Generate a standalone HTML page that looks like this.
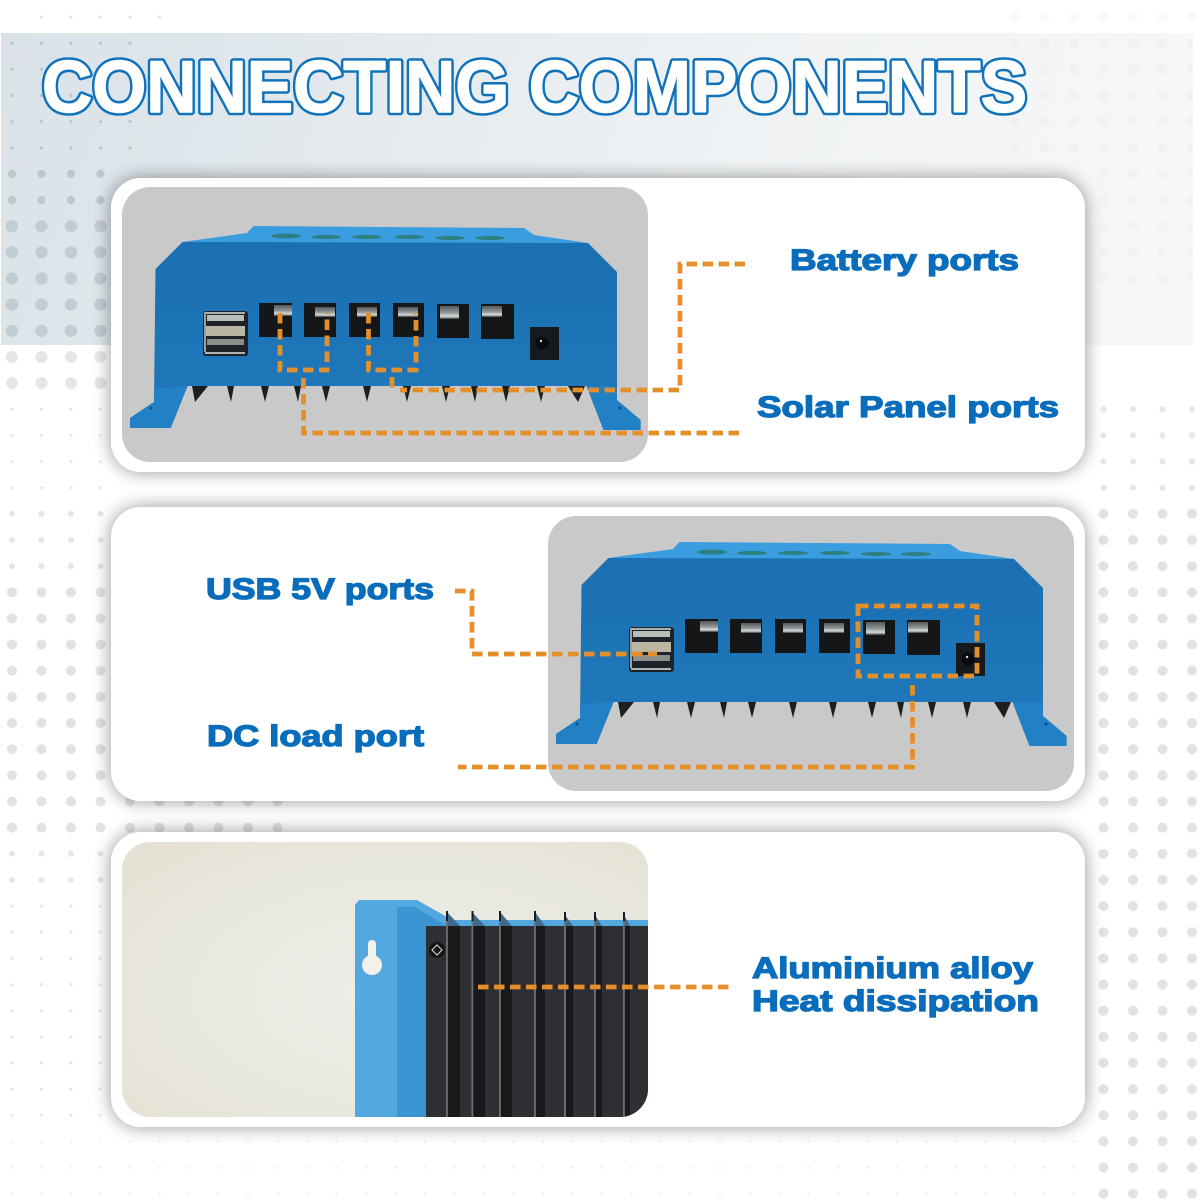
<!DOCTYPE html>
<html><head><meta charset="utf-8"><style>
html,body{margin:0;padding:0;background:#fff}
svg{display:block}
text{font-family:"Liberation Sans",sans-serif;font-weight:bold}
.l{fill:#0a6dbc;stroke:#0a6dbc;stroke-width:1.3;font-size:30px}
.d{fill:none;stroke:#e3902c;stroke-width:4.8;stroke-dasharray:10.5 5.5}
</style></head><body>
<svg width="1200" height="1200" viewBox="0 0 1200 1200" xmlns="http://www.w3.org/2000/svg">
<defs>
<linearGradient id="band" x1="0" y1="0" x2="1" y2="0.1">
<stop offset="0" stop-color="#d9e2e8"/><stop offset=".3" stop-color="#e3e9ed"/><stop offset=".6" stop-color="#eef1f3"/><stop offset="1" stop-color="#f6f7f8"/>
</linearGradient>
<linearGradient id="body" x1="0" y1="0" x2="0" y2="1">
<stop offset="0" stop-color="#1b70b1"/><stop offset=".5" stop-color="#1d74b6"/><stop offset="1" stop-color="#217abe"/>
</linearGradient>
<radialGradient id="wall" cx=".55" cy=".55" r=".75">
<stop offset="0" stop-color="#eeeeea"/><stop offset=".6" stop-color="#e9e8df"/><stop offset="1" stop-color="#e5e0d3"/>
</radialGradient>
<linearGradient id="tab" x1="0" y1="0" x2="0" y2="1">
<stop offset="0" stop-color="#55595c"/><stop offset=".5" stop-color="#8f9496"/><stop offset=".8" stop-color="#d6dad9"/><stop offset="1" stop-color="#3c4042"/>
</linearGradient>
<pattern id="t1" width="29.5" height="26.15" patternUnits="userSpaceOnUse"><circle cx="12" cy="17" r="1.6" fill="#b9c3ca"/></pattern>
<pattern id="t2" width="29.5" height="26.15" patternUnits="userSpaceOnUse"><circle cx="12" cy="17" r="4.2" fill="#bcc8cd"/></pattern>
<pattern id="t3" width="29.5" height="26.15" patternUnits="userSpaceOnUse"><circle cx="12" cy="17" r="6.2" fill="#c1cdd2"/></pattern>
<pattern id="g1" width="29.5" height="26.15" patternUnits="userSpaceOnUse"><circle cx="12" cy="17" r="1.5" fill="#e4e4e4"/></pattern>
<pattern id="g2" width="29.5" height="26.15" patternUnits="userSpaceOnUse"><circle cx="12" cy="17" r="3" fill="#e6e6e6"/></pattern>
<pattern id="g3" width="29.5" height="26.15" patternUnits="userSpaceOnUse"><circle cx="12" cy="17" r="5" fill="#e2e2e2"/></pattern>
<pattern id="g4" width="29.5" height="26.15" patternUnits="userSpaceOnUse"><circle cx="12" cy="17" r="6" fill="#e6e6e6"/></pattern>
<pattern id="f1" width="29.5" height="26.15" patternUnits="userSpaceOnUse"><circle cx="12" cy="17" r="5" fill="#ecedef"/></pattern>
<filter id="sh" x="-6%" y="-20%" width="112%" height="140%">
<feGaussianBlur in="SourceAlpha" stdDeviation="9"/>
<feComponentTransfer><feFuncA type="linear" slope=".42"/></feComponentTransfer>
<feMerge><feMergeNode/><feMergeNode in="SourceGraphic"/></feMerge>
</filter>
<clipPath id="c3"><rect x="122" y="842" width="526" height="275" rx="28"/></clipPath>
<g id="ctrl">
<polygon points="182.5,242 247,233 253.5,226 524,228 534,235 588,243 590,246 180,246" fill="#3a9de0"/>
<polygon points="155.5,269 182.5,242 588,243 617,272 617,400 640.6,420 640.6,430 603.5,430 586.5,386 187.6,386 170.7,428 130,428 130,418 154,402" fill="url(#body)"/>
<polygon points="130,418 154,402 155.5,388 187.6,386 170.7,428 130,428" fill="#2280c4"/>
<polygon points="617,400 640.6,420 640.6,430 603.5,430 586.5,386 617,386" fill="#2280c4"/>
<circle cx="151" cy="408" r="1.5" fill="#0b4f88"/><circle cx="620" cy="408" r="1.5" fill="#0b4f88"/>
<g fill="#2d7f80"><ellipse cx="286" cy="236" rx="15" ry="2.5"/><ellipse cx="326" cy="237" rx="15" ry="2"/><ellipse cx="367" cy="237" rx="15" ry="2"/><ellipse cx="409" cy="237" rx="15" ry="2"/><ellipse cx="450" cy="238" rx="15" ry="2"/><ellipse cx="490" cy="238" rx="15" ry="2"/></g>
<g fill="#1c1e20">
<polygon points="192,386 208,386 195,402"/><polygon points="227,386 234,386 231,402"/><polygon points="261,386 269,386 265,402"/><polygon points="294,386 301,386 298,402"/><polygon points="322,386 330,386 326,402"/><polygon points="363,386 371,386 367,402"/><polygon points="403,386 411,386 407,402"/><polygon points="442,386 450,386 446,402"/><polygon points="471,386 478,386 475,402"/><polygon points="502,386 510,386 506,402"/><polygon points="537,386 545,386 541,402"/><polygon points="568,386 585,386 578,402"/>
</g>
<g fill="#141618">
<rect x="259" y="303" width="33" height="34"/><rect x="304" y="303" width="32" height="34"/><rect x="349" y="303" width="31" height="34"/><rect x="393" y="303" width="31" height="34"/><rect x="437" y="304" width="32" height="34"/><rect x="481" y="304" width="33" height="35"/>
</g>
<g fill="url(#tab)">
<rect x="274" y="305" width="18" height="11"/><rect x="315" y="307" width="20" height="10"/><rect x="357" y="307" width="20" height="10"/><rect x="398" y="307" width="20" height="10"/><rect x="440" y="306" width="19" height="13"/><rect x="482" y="306" width="20" height="11"/>
</g>
<rect x="530" y="327" width="29" height="33" fill="#161a1e"/>
<circle cx="542" cy="343" r="6.5" fill="#06090d"/><circle cx="541" cy="341" r="1.2" fill="#ddd"/>
<rect x="203" y="311" width="45" height="45" rx="3" fill="#1d2328"/>
<rect x="205" y="312" width="40" height="2" fill="#aab0b0"/>
<rect x="204" y="312" width="2" height="40" fill="#9aa0a0"/>
<rect x="207" y="315" width="37" height="6" fill="#b9bdb9"/>
<rect x="206" y="326" width="39" height="10" fill="#b9b7a4"/>
<rect x="207" y="339" width="37" height="6" fill="#8b8e8a"/>
<rect x="205" y="352" width="40" height="2" fill="#aeb4b4"/>
</g>
</defs>

<rect width="1200" height="1200" fill="#fff"/>
<rect x="1" y="33" width="1192" height="312" fill="url(#band)"/>
<!-- dots -->
<rect x="30" y="5" width="135" height="25" fill="url(#g1)"/>
<rect x="1000" y="5" width="200" height="25" fill="url(#f1)" opacity=".35"/>
<rect x="0" y="33" width="140" height="125" fill="url(#t1)"/>
<rect x="0" y="160" width="108" height="60" fill="url(#t2)"/>
<rect x="0" y="220" width="108" height="125" fill="url(#t3)"/>
<rect x="1000" y="33" width="193" height="135" fill="url(#f1)" opacity=".6"/>
<rect x="1090" y="170" width="103" height="115" fill="url(#f1)" opacity=".5"/>
<rect x="0" y="345" width="108" height="45" fill="url(#g4)"/>
<rect x="0" y="395" width="108" height="100" fill="url(#g1)"/>
<rect x="0" y="500" width="108" height="80" fill="url(#g2)"/>
<rect x="0" y="580" width="108" height="260" fill="url(#g3)"/>
<rect x="0" y="840" width="108" height="52" fill="url(#g2)"/>
<rect x="0" y="892" width="108" height="238" fill="url(#g1)"/>
<rect x="1090" y="400" width="110" height="100" fill="url(#g2)"/>
<rect x="1090" y="500" width="110" height="700" fill="url(#g3)"/>
<rect x="108" y="795" width="180" height="40" fill="url(#g3)"/>
<rect x="0" y="1130" width="1090" height="70" fill="url(#g1)" opacity=".5"/>

<text x="42" y="112" font-size="73" textLength="985" lengthAdjust="spacingAndGlyphs" fill="none" stroke="#0f72bb" stroke-width="6.5" stroke-linejoin="round">CONNECTING COMPONENTS</text>
<text x="42" y="112" font-size="73" textLength="985" lengthAdjust="spacingAndGlyphs" fill="#fff" stroke="#fff" stroke-width="1.4" stroke-linejoin="round">CONNECTING COMPONENTS</text>

<rect x="111" y="178" width="974" height="294" rx="30" fill="#fff" filter="url(#sh)"/>
<rect x="111" y="507" width="974" height="294" rx="30" fill="#fff" filter="url(#sh)"/>
<rect x="111" y="832" width="974" height="295" rx="30" fill="#fff" filter="url(#sh)"/>

<rect x="122" y="187" width="526" height="275" rx="28" fill="#c9c9c9"/>
<use href="#ctrl"/>

<rect x="548" y="516" width="526" height="275" rx="28" fill="#c9c9c9"/>
<g transform="translate(426,316)"><use href="#ctrl"/></g>

<g clip-path="url(#c3)">
<rect x="122" y="842" width="526" height="275" fill="url(#wall)"/>
<polygon points="355,905 359,900 417,900 447,917 447,920 648,920 648,1117 355,1117" fill="#53a8e0"/>
<polygon points="397,907 415,907 447,926 426,926 426,1117 397,1117" fill="#3b95d3"/>
<rect x="426" y="926" width="222" height="191" fill="#2e2f32"/>
<g fill="#3f6a8c">
<polygon points="447,912 460,926 447,926"/><polygon points="472,912 485,926 472,926"/><polygon points="500,912 512,926 500,926"/><polygon points="535,912 545,926 535,926"/><polygon points="565,915 573,926 565,926"/><polygon points="595,915 602,926 595,926"/><polygon points="624,915 630,926 624,926"/>
</g>
<g fill="#18191b">
<rect x="448" y="926" width="12" height="191"/><rect x="473" y="926" width="12" height="191"/><rect x="501" y="926" width="11" height="191"/><rect x="536" y="926" width="9" height="191"/><rect x="566" y="926" width="7" height="191"/><rect x="596" y="926" width="6" height="191"/><rect x="625" y="926" width="5" height="191"/>
</g>
<g fill="#6d7073">
<rect x="446" y="920" width="1.8" height="197"/><rect x="471.5" y="920" width="1.8" height="197"/><rect x="499" y="920" width="1.8" height="197"/><rect x="534" y="920" width="1.8" height="197"/><rect x="564" y="920" width="1.8" height="197"/><rect x="594" y="920" width="1.8" height="197"/><rect x="623" y="920" width="1.8" height="197"/>
</g>
<g fill="#1a1b1d">
<rect x="446" y="911" width="2" height="10"/><rect x="471.5" y="911" width="2" height="10"/><rect x="499" y="911" width="2" height="10"/><rect x="534" y="911" width="2" height="10"/><rect x="564" y="912" width="2" height="9"/><rect x="594" y="912" width="2" height="9"/><rect x="623" y="912" width="2" height="9"/>
</g>
<circle cx="437" cy="950" r="8" fill="#141516"/><polygon points="437,945 442,950 437,955 432,950" fill="none" stroke="#c8c8c8" stroke-width="1.2"/>
<circle cx="372" cy="965" r="10" fill="#f2f1ea"/><rect x="368" y="940" width="8" height="24" rx="4" fill="#f2f1ea"/>
</g>

<polyline class="d" points="745,264 680,264 680,390 400,390"/>
<polyline class="d" points="392,377 392,388"/>
<polyline class="d" points="280,313 280,370 327,370 327,313"/>
<polyline class="d" points="368.5,313 368.5,370 416,370 416,313"/>
<polyline class="d" points="303.5,378 303.5,433 742,433"/>
<polyline class="d" points="455,591 472,591 472,654 657,654"/>
<rect class="d" x="858" y="606" width="119" height="70"/>
<polyline class="d" points="912.5,685 912.5,767 458,767"/>
<polyline class="d" points="478,987 730,987"/>

<text class="l" x="790" y="270" textLength="229" lengthAdjust="spacingAndGlyphs">Battery ports</text>
<text class="l" x="757" y="417" textLength="302" lengthAdjust="spacingAndGlyphs">Solar Panel ports</text>
<text class="l" x="206" y="599" textLength="228" lengthAdjust="spacingAndGlyphs">USB 5V ports</text>
<text class="l" x="207" y="746" textLength="217" lengthAdjust="spacingAndGlyphs">DC load port</text>
<text class="l" x="752" y="978" textLength="281" lengthAdjust="spacingAndGlyphs">Aluminium alloy</text>
<text class="l" x="752" y="1011" textLength="287" lengthAdjust="spacingAndGlyphs">Heat dissipation</text>
</svg>
</body></html>
